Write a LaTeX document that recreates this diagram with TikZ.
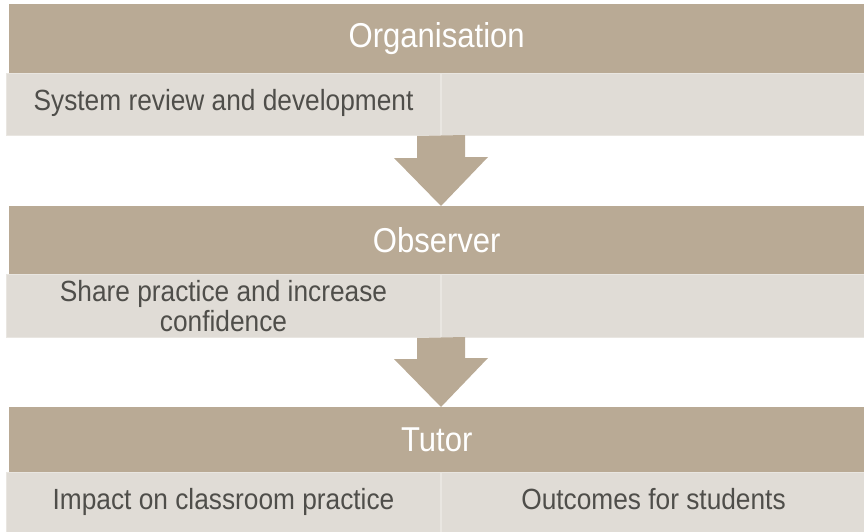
\documentclass[tikz,border=0pt]{standalone}
\usepackage{fontspec}
\usepackage{tikz}
\setmainfont{Liberation Sans}[FakeStretch=0.9]
\definecolor{bandtan}{HTML}{B9AA95}
\definecolor{cellgrey}{HTML}{E0DCD6}
\definecolor{celledge}{HTML}{E9E6E1}
\definecolor{celltext}{HTML}{4F4E4A}

\begin{document}
\begin{tikzpicture}[x=1pt, y=-1pt,
                    band/.style={fill=bandtan, anchor=north west, minimum width=855pt, inner sep=0pt,
                                 text=white, font=\fontsize{34.5}{40}\selectfont},
                    cell/.style={fill=cellgrey, draw=celledge, line width=1pt, anchor=north west, inner sep=0pt,
                                 text=celltext, align=center, font=\fontsize{29.2}{30}\selectfont},
                    flow/.style={fill=bandtan}]
                    \useasboundingbox (0, 0) rectangle (864, 532);

                    \node[band, minimum height=69pt] (org) at (9, 4) {Organisation};
                    \node[cell, minimum width=434pt, minimum height=62pt] (sys) at (6, 73) {\strut System review and development};
                    \node[cell, minimum width=424pt, minimum height=62pt] (sysR) at (sys.north east) {};

                    \node[band, minimum height=68pt] (obs) at (9, 206) {Observer};
                    \node[cell, minimum width=434pt, minimum height=63pt] (share) at (6, 274) {Share practice and increase\\confidence};
                    \node[cell, minimum width=424pt, minimum height=63pt] (shareR) at (share.north east) {};

                    \node[band, minimum height=65pt] (tutor) at (9, 407) {Tutor};
                    \node[cell, minimum width=434pt, minimum height=62pt] (impact) at (6, 472) {\strut Impact on classroom practice};
                    \node[cell, minimum width=424pt, minimum height=62pt] (outcome) at (impact.north east) {\strut Outcomes for students};

                    \fill[flow] (sys.south east) ++(-24, 0) -- ++(0, 22) -- ++(-23, 0)
                        -- (sys.south east |- obs.north) -- ++(47, -49) -- ++(-23, 0) -- ++(0, -22) -- cycle;
                    \fill[flow] (share.south east) ++(-24, 0) -- ++(0, 21) -- ++(-23, 0)
                        -- (share.south east |- tutor.north) -- ++(47, -49) -- ++(-23, 0) -- ++(0, -21) -- cycle;
                \end{tikzpicture}
\end{document}
